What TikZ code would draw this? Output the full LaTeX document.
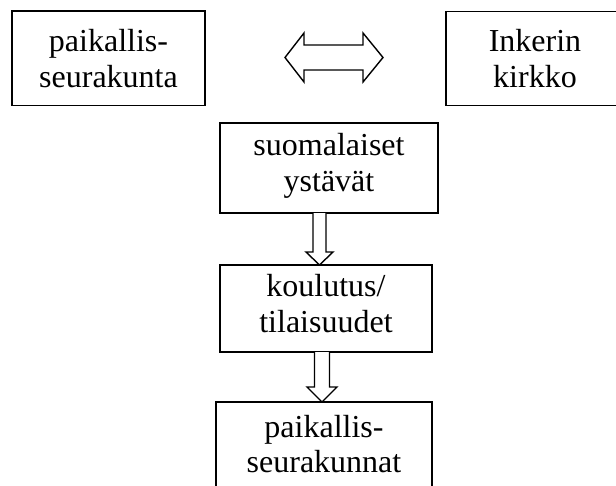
\documentclass[tikz,border=0pt]{standalone}
\usepackage{fontspec}
\setmainfont{Liberation Serif}
\usetikzlibrary{calc}
\begin{document}
\begin{tikzpicture}[x=1pt,y=-1pt,
  boxst/.style={draw=black, line width=1.6pt, inner sep=0pt, outer sep=0pt},
  txt/.style={align=center, inner sep=0pt, font=\fontsize{32}{35.5}\selectfont},
  blockarrow/.style={draw=black, line width=1.4pt, line join=miter, fill=white}]
\useasboundingbox (0,0) rectangle (616,485);
\clip (0,0) rectangle (616,485);
% boxes
\node[boxst, minimum width=193pt, minimum height=94.5pt] (p) at (108.5,58.25) {};
\node[boxst, minimum width=178pt, minimum height=94pt] (ik) at (535,58.5) {};
\node[boxst, minimum width=218pt, minimum height=90pt] (s) at (329,168) {};
\node[boxst, minimum width=212pt, minimum height=87pt] (k) at (326,308.5) {};
\node[boxst, minimum width=216pt, minimum height=120pt] (ps) at (324,462) {};
% texts (base anchor = baseline of the last line)
\node[txt, anchor=base] (pt) at (108.5,87) {paikallis-\\seurakunta};
\node[txt, anchor=base] (ikt) at (535,87) {Inkerin\\kirkko};
\node[txt, anchor=base] (st) at (329,191) {suomalaiset\\ystävät};
\node[txt, anchor=base] (kt) at (326,332) {koulutus/\\tilaisuudet};
\node[txt, anchor=base] (pst) at (324,472.5) {paikallis-\\seurakunnat};
% double arrow between top boxes
\coordinate (dl) at ($(p.east)+(80,-0.75)$);
\coordinate (dr) at ($(ik.west)+(-63,-1)$);
\draw[blockarrow] (dl) -- ($(dl)+(19,-24.5)$) -- ($(dl)+(19,-12.5)$) -- ($(dr)+(-20,-12.5)$)
  -- ($(dr)+(-20,-24.5)$) -- (dr) -- ($(dr)+(-20,24.5)$) -- ($(dr)+(-20,12.5)$)
  -- ($(dl)+(19,12.5)$) -- ($(dl)+(19,24.5)$) -- cycle;
% down arrow 1
\coordinate (t1) at ($(k.north)+(-6.5,0)$);
\coordinate (r1) at (t1 |- s.south);
\draw[blockarrow] ($(r1)+(-6.5,0)$) -- ($(t1)+(-6.5,-13)$) -- ($(t1)+(-13.5,-13)$) -- (t1)
  -- ($(t1)+(13.5,-13)$) -- ($(t1)+(6.5,-13)$) -- ($(r1)+(6.5,0)$);
% down arrow 2
\coordinate (t2) at ($(ps.north)+(-2,0)$);
\coordinate (r2) at (t2 |- k.south);
\draw[blockarrow] ($(r2)+(-7.5,0)$) -- ($(t2)+(-7.5,-15)$) -- ($(t2)+(-15,-15)$) -- (t2)
  -- ($(t2)+(15,-15)$) -- ($(t2)+(7.5,-15)$) -- ($(r2)+(7.5,0)$);
\end{tikzpicture}
\end{document}
